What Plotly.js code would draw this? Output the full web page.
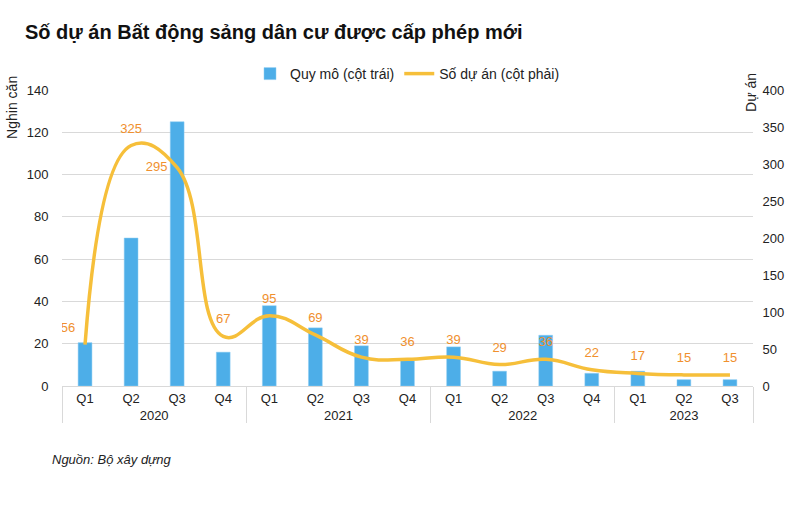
<!DOCTYPE html>
<html>
<head>
<meta charset="utf-8">
<script src="https://cdn.plot.ly/plotly-3.0.1.min.js"></script>
<style>html,body{margin:0;padding:0;background:#fff;}#chart{width:800px;height:524px;}</style>
</head>
<body>
<div id="chart"></div>
<script>
const years = ['2020','2020','2020','2020','2021','2021','2021','2021','2022','2022','2022','2022','2023','2023','2023'];
const quarters = ['Q1','Q2','Q3','Q4','Q1','Q2','Q3','Q4','Q1','Q2','Q3','Q4','Q1','Q2','Q3'];
const quyMo = [20.5, 70, 125, 16, 38, 27.5, 19, 12, 18.5, 7, 24, 6, 7, 3, 3];
const soDuAn = [56, 325, 295, 67, 95, 69, 39, 36, 39, 29, 36, 22, 17, 15, 15];
const labelPos = ['top left','top center','middle left','top center','top center','top center','top center','top center','top center','top center','top center','top center','top center','top center','top center'];

const FONT = 'Liberation Sans, Arial, sans-serif';
const x = [years, quarters];

const traces = [
  {
    type: 'bar', x: x, y: quyMo, name: 'Quy mô (cột trái)',
    marker: {color: '#4DAEE8', line: {color: '#8FCDF2', width: 0.5}},
    hoverinfo: 'y'
  },
  {
    type: 'scatter', mode: 'lines', x: x, y: soDuAn, yaxis: 'y2',
    name: 'Số dự án (cột phải)',
    line: {color: '#F6BF3A', width: 3.5, shape: 'spline', smoothing: 1.25}
  },
  {
    type: 'scatter', mode: 'markers+text', x: x, y: soDuAn, yaxis: 'y2',
    showlegend: false, hoverinfo: 'skip',
    marker: {size: 14, opacity: 0},
    text: soDuAn.map(String), textposition: labelPos,
    textfont: {family: FONT, size: 13, color: '#F0902E'}
  }
];

const layout = {
  width: 800, height: 524,
  margin: {l: 62, r: 47, t: 88, b: 138},
  paper_bgcolor: '#fff', plot_bgcolor: '#fff',
  font: {family: FONT, size: 13, color: '#222'},
  title: {text: '<b>Số dự án Bất động sảng dân cư được cấp phép mới</b>',
          font: {family: FONT, size: 20, color: '#111'},
          x: 25/800, xanchor: 'left', y: 1 - 32/524, yanchor: 'middle'},
  bargap: 0.7,
  showlegend: true,
  legend: {orientation: 'h', x: 0.5, xanchor: 'center', y: 1 - 74/524, yref: 'container', yanchor: 'middle',
           font: {family: FONT, size: 14, color: '#222'}, tracegroupgap: 0},
  xaxis: {
    type: 'multicategory', showgrid: false, range: [-0.5, 14.5], autorange: false,
    showline: true, linecolor: '#d9d9d9', linewidth: 1,
    showdividers: true, dividercolor: '#d9d9d9', dividerwidth: 1,
    ticks: '', tickfont: {family: FONT, size: 13, color: '#222'},
    mirror: false
  },
  yaxis: {
    range: [0, 140], dtick: 20, showgrid: true, gridcolor: '#d9d9d9', gridwidth: 1,
    zeroline: false, showline: false, ticks: 'outside', ticklen: 10, tickcolor: 'rgba(0,0,0,0)',
    tickfont: {family: FONT, size: 13, color: '#222'}
  },
  yaxis2: {
    overlaying: 'y', side: 'right', range: [0, 400], dtick: 50,
    showgrid: false, zeroline: false, showline: false, ticks: 'outside', ticklen: 6, tickcolor: 'rgba(0,0,0,0)',
    tickfont: {family: FONT, size: 13, color: '#222'}
  },
  annotations: [
    {text: 'Nghin căn', xref: 'paper', yref: 'paper', x: -62/691 + 12/691, y: (386-106)/298,
     textangle: -90, showarrow: false, xanchor: 'center', yanchor: 'middle',
     font: {family: FONT, size: 14, color: '#222'}},
    {text: 'Dự án', xref: 'paper', yref: 'paper', x: (751-62)/691, y: (386-91)/298,
     textangle: -90, showarrow: false, xanchor: 'center', yanchor: 'middle',
     font: {family: FONT, size: 14, color: '#222'}},
    {text: '<i>Nguồn: Bộ xây dựng</i>', xref: 'paper', yref: 'paper', x: (50-62)/691, y: (386-460)/298,
     showarrow: false, xanchor: 'left', yanchor: 'middle',
     font: {family: FONT, size: 13, color: '#222'}}
  ]
};

Plotly.newPlot('chart', traces, layout, {displayModeBar: false, staticPlot: true});
</script>
</body>
</html>
